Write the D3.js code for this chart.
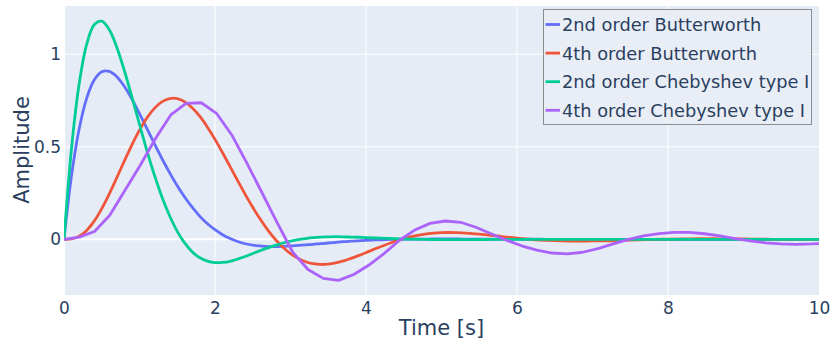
<!DOCTYPE html>
<html><head><meta charset="utf-8">
<script src="https://cdn.jsdelivr.net/npm/d3@7"></script>
<style>
body{margin:0;background:#fff;}
svg{display:block;font-family:"DejaVu Sans",Verdana,sans-serif;}
</style>
</head><body>
<svg id="chart" width="832" height="347"></svg>
<script>
// ---------- data ----------
const seriesNames = ["2nd order Butterworth", "4th order Butterworth", "2nd order Chebyshev type I", "4th order Chebyshev type I"];
const seriesColors = ["#636efa", "#EF553B", "#00cc96", "#ab63fa"];

const timeFine = [0,0.1,0.2,0.3,0.4,0.5,0.6,0.7,0.8,0.9,1.0,1.1,1.2,1.3,1.4,1.5,1.6,1.7,1.8,1.9,2.0,
  2.1,2.2,2.3,2.4,2.5,2.6,2.7,2.8,2.9,3.0,3.1,3.2,3.3,3.4,3.5,3.6,3.7,3.8,3.9,4.0,
  4.2,4.4,4.6,4.8,5.0,5.2,5.4,5.6,5.8,6.0,6.2,6.4,6.6,6.8,7.0,7.2,7.4,7.6,7.8,8.0,
  8.2,8.4,8.6,8.8,9.0,9.2,9.4,9.6,9.8,10.0];

const butter2 = [0,0.346,0.595,0.762,0.861,0.906,0.908,0.879,0.826,0.758,0.679,0.597,0.514,0.434,0.359,0.289,0.227,0.172,0.124,0.084,0.052,
  0.025,0.004,-0.012,-0.024,-0.032,-0.036,-0.039,-0.039,-0.038,-0.036,-0.033,-0.030,-0.027,-0.023,-0.020,-0.016,-0.013,-0.010,-0.008,-0.006,
  -0.0025,-0.0003,0.0009,0.0015,0.0017,0.0016,0.0013,0.0010,0.0007,0.0005,0.0003,0.0001,0,0,0,0,0,0,0,0,
  0,0,0,0,0,0,0,0,0,0];

const butter4 = [0,0.002,0.016,0.048,0.098,0.166,0.246,0.334,0.424,0.511,0.590,0.657,0.709,0.744,0.761,0.761,0.743,0.710,0.664,0.606,0.540,
  0.468,0.393,0.317,0.243,0.173,0.108,0.050,-0.001,-0.043,-0.077,-0.103,-0.121,-0.132,-0.136,-0.134,-0.127,-0.117,-0.103,-0.088,-0.072,
  -0.039,-0.009,0.014,0.029,0.036,0.036,0.031,0.024,0.015,0.006,-0.001,-0.006,-0.009,-0.010,-0.009,-0.008,-0.005,-0.003,-0.001,0.001,
  0.002,0.003,0.003,0.002,0.002,0.001,0.000,0.000,-0.0005,-0.0007];

const cheby2 = [0,0.493,0.838,1.053,1.160,1.179,1.132,1.037,0.911,0.768,0.621,0.477,0.344,0.226,0.126,0.043,-0.021,-0.068,-0.100,-0.118,-0.126,
  -0.125,-0.119,-0.107,-0.093,-0.077,-0.061,-0.046,-0.033,-0.020,-0.010,-0.002,0.004,0.009,0.012,0.013,0.014,0.013,0.012,0.011,0.009,
  0.006,0.003,0.001,-0.0006,-0.0013,-0.0015,-0.0013,-0.0009,-0.0006,-0.0003,-0.0001,0,0,0,0,0,0,0,0,0,
  0,0,0,0,0,0,0,0,0,0];

const timeCoarse = [0,0.202,0.404,0.606,0.808,1.010,1.212,1.414,1.616,1.818,2.020,2.222,2.424,2.626,2.828,3.030,3.232,3.434,3.636,3.838,
  4.040,4.242,4.444,4.646,4.848,5.051,5.253,5.455,5.657,5.859,6.061,6.263,6.465,6.667,6.869,7.071,7.273,7.475,7.677,7.879,
  8.081,8.283,8.485,8.687,8.889,9.091,9.293,9.495,9.697,9.899,10.101];

const cheby4 = [0,0.012,0.042,0.130,0.265,0.400,0.545,0.672,0.735,0.738,0.681,0.564,0.410,0.249,0.086,-0.070,-0.163,-0.211,-0.222,-0.190,
  -0.139,-0.076,-0.005,0.050,0.086,0.099,0.092,0.065,0.030,-0.005,-0.035,-0.058,-0.074,-0.079,-0.070,-0.050,-0.025,0.000,0.018,0.031,
  0.038,0.037,0.030,0.018,0.004,-0.009,-0.019,-0.025,-0.027,-0.025,-0.021];

const xTicks = [0, 2, 4, 6, 8, 10];
const yTicks = [0, 0.5, 1];
const xTitle = "Time [s]";
const yTitle = "Amplitude";

// ---------- layout ----------
const svg = d3.select("#chart");
const L = 64, R = 819, T = 6, B = 295;
const x = d3.scaleLinear().domain([0, 10]).range([L, R]);
const y = d3.scaleLinear().domain([-0.301, 1.261]).range([B, T]);
const txt = "#2a3f5f";

svg.append("rect").attr("x", L).attr("y", T).attr("width", R - L).attr("height", B - T).attr("fill", "#e5ecf6");

// grid
svg.append("g").selectAll("line").data(xTicks.filter(d => d > 0 && d < 10)).join("line")
  .attr("x1", d => x(d)).attr("x2", d => x(d)).attr("y1", T).attr("y2", B)
  .attr("stroke", "#fff").attr("stroke-width", 1);
svg.append("g").selectAll("line").data(yTicks.filter(d => d !== 0)).join("line")
  .attr("x1", L).attr("x2", R).attr("y1", d => y(d)).attr("y2", d => y(d))
  .attr("stroke", "#fff").attr("stroke-width", 1);
// zero lines
svg.append("line").attr("x1", L).attr("x2", R).attr("y1", y(0)).attr("y2", y(0)).attr("stroke", "#fff").attr("stroke-width", 2);
svg.append("line").attr("x1", x(0)).attr("x2", x(0)).attr("y1", T).attr("y2", B).attr("stroke", "#fff").attr("stroke-width", 2);

// axes
const xAxis = svg.append("g").attr("transform", `translate(0,${B})`)
  .call(d3.axisBottom(x).tickValues(xTicks).tickSize(0).tickPadding(6.5).tickFormat(d3.format("d")));
const yAxis = svg.append("g").attr("transform", `translate(${L},0)`)
  .call(d3.axisLeft(y).tickValues(yTicks).tickSize(0).tickPadding(3).tickFormat(d => String(d)));
[xAxis, yAxis].forEach(a => {
  a.select(".domain").remove();
  a.selectAll("text").attr("fill", txt).style("font-size", "17px").style("font-family", '"DejaVu Sans",Verdana,sans-serif');
});

svg.append("text").attr("x", (L + R) / 2).attr("y", 335).attr("text-anchor", "middle")
  .attr("fill", txt).style("font-size", "21px").text(xTitle);
svg.append("text").attr("transform", "translate(28.5,150) rotate(-90)").attr("text-anchor", "middle")
  .attr("fill", txt).style("font-size", "21px").text(yTitle);

// traces
svg.append("defs").append("clipPath").attr("id", "clip")
  .append("rect").attr("x", L).attr("y", T).attr("width", R - L).attr("height", B - T);
const plot = svg.append("g").attr("clip-path", "url(#clip)");

const traces = [
  { t: timeFine, v: butter2, curve: d3.curveCatmullRom },
  { t: timeFine, v: butter4, curve: d3.curveCatmullRom },
  { t: timeFine, v: cheby2, curve: d3.curveCatmullRom },
  { t: timeCoarse, v: cheby4, curve: d3.curveLinear }
];
traces.forEach((tr, i) => {
  const pts = tr.t.map((t, k) => [t, tr.v[k]]);
  const line = d3.line().x(d => x(d[0])).y(d => y(d[1])).curve(tr.curve);
  plot.append("path").attr("d", line(pts)).attr("fill", "none")
    .attr("stroke", seriesColors[i]).attr("stroke-width", 2.8)
    .attr("stroke-linejoin", "round").attr("stroke-linecap", "round");
});

// legend
const lg = svg.append("g");
lg.append("rect").attr("x", 543.5).attr("y", 9.5).attr("width", 268).attr("height", 115)
  .attr("fill", "#e9eef6").attr("stroke", "#8c8c8c").attr("stroke-width", 1);
seriesNames.forEach((name, i) => {
  const cy = 24.5 + i * 28.6;
  lg.append("line").attr("x1", 545.5).attr("x2", 560).attr("y1", cy).attr("y2", cy)
    .attr("stroke", seriesColors[i]).attr("stroke-width", 2.8);
  lg.append("text").attr("x", 562).attr("y", cy + 6.4).attr("fill", txt)
    .style("font-size", "17.8px").text(name);
});
</script>
</body></html>
